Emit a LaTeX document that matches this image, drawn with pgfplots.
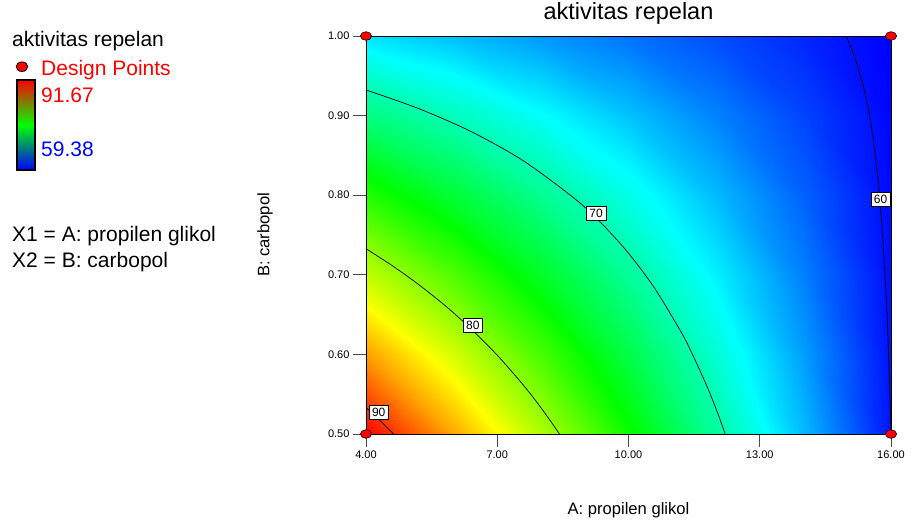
\documentclass[border=0pt]{standalone}
\usepackage{fontspec}
\setmainfont{Liberation Sans}
\usepackage{pgfplots}
\pgfplotsset{compat=1.18}
\usepackage{pgfplotstable}

\pgfplotstableread{
A B f
4 0.5 91.67
6 0.5 86.39
8 0.5 81.11
10 0.5 75.84
12 0.5 70.56
14 0.5 65.28
16 0.5 60.00
4 0.6 86.66
6 0.6 82.19
8 0.6 77.73
10 0.6 73.27
12 0.6 68.80
14 0.6 64.34
16 0.6 59.88
4 0.7 81.64
6 0.7 77.99
8 0.7 74.35
10 0.7 70.70
12 0.7 67.05
14 0.7 63.40
16 0.7 59.75
4 0.8 76.63
6 0.8 73.79
8 0.8 70.96
10 0.8 68.13
12 0.8 65.29
14 0.8 62.46
16 0.8 59.63
4 0.9 71.61
6 0.9 69.60
8 0.9 67.58
10 0.9 65.56
12 0.9 63.54
14 0.9 61.52
16 0.9 59.50
4 1.0 66.60
6 1.0 65.40
8 1.0 64.19
10 1.0 62.99
12 1.0 61.79
14 1.0 60.58
16 1.0 59.38
}\surfdata

\pgfplotstableread{
A B
4 0.5
16 0.5
4 1.0
16 1.0
}\designpts

\tikzset{clabel/.style={fill=white, draw=black, line width=0.5pt, inner xsep=3pt, inner ysep=2.5pt, text height=8.6pt, text depth=0pt, font=\fontsize{12}{13}\selectfont}}

\begin{document}
\begin{tikzpicture}[x=1pt,y=1pt]
\path[use as bounding box] (0,0) rectangle (911,523);
\begin{axis}[
  at={(366pt,89pt)}, anchor=south west,
  scale only axis, width=525pt, height=398pt,
  xmin=4, xmax=16, ymin=0.5, ymax=1,
  xtick={4,7,10,13,16}, ytick={0.5,0.6,0.7,0.8,0.9,1.0},
  tick pos=left, tick align=outside,
  major tick length=13pt,
  every tick/.style={black!70, line width=1pt},
  axis line style={line width=1pt},
  axis on top,
  clip=false,
  /pgf/number format/assume math mode=true,
  xticklabel style={font=\fontsize{11}{13}\selectfont, /pgf/number format/.cd, fixed, fixed zerofill, precision=2},
  yticklabel style={font=\fontsize{11}{13}\selectfont, /pgf/number format/.cd, fixed, fixed zerofill, precision=2},
  title={aktivitas repelan},
  title style={font=\fontsize{23.5}{26}\selectfont, at={(axis description cs:0.5,1.0276)}, anchor=base},
  xlabel={A: propilen glikol},
  xlabel style={font=\fontsize{16.6}{19}\selectfont, at={(axis description cs:0.5,-0.191)}, anchor=center},
  ylabel={B: carbopol},
  ylabel style={font=\fontsize{16.6}{19}\selectfont, at={(axis description cs:-0.1924,0.5)}, anchor=center},
  colormap={dx}{rgb255=(0,0,255) rgb255=(0,255,255) rgb255=(0,255,0) rgb255=(255,255,0) rgb255=(255,0,0)},
  point meta min=59.38, point meta max=91.67,
]
\addplot[surf, shader=interp, mesh/rows=6, mesh/cols=7, point meta=explicit] table[x=A, y=B, meta=f] {\surfdata};

% contour 90
\addplot[black, line width=0.7pt, smooth] coordinates {(4,0.5333) (4.24,0.5211) (4.48,0.5084) (4.632,0.5)};
% contour 80
\addplot[black, line width=0.7pt, smooth] coordinates {(4,0.7328) (4.6,0.7115) (5.2,0.6879) (5.8,0.6617) (6.4,0.6322) (7.0,0.5990) (7.6,0.5612) (7.96,0.5359) (8.2,0.5177) (8.422,0.5)};
% contour 70
\addplot[black, line width=0.7pt, smooth] coordinates {(4,0.9322) (5.2,0.9089) (6.4,0.8800) (7.6,0.8431) (8.8,0.7944) (9.4,0.7637) (10,0.7271) (10.6,0.6829) (11.2,0.6283) (11.44,0.6026) (11.8,0.5591) (12.04,0.5260) (12.21,0.5)};
% contour 60
\addplot[black, line width=0.7pt, smooth] coordinates {(14.97,1.0) (15.16,0.9754) (15.4,0.9297) (15.52,0.8964) (15.64,0.8510) (15.76,0.7856) (15.88,0.6832) (15.94,0.6067) (15.976,0.5473) (16,0.5)};

\node[clabel] at (axis cs:9.26,0.777) {70};
\node[clabel] at (axis cs:6.44,0.637) {80};
\node[clabel] at (axis cs:4.29,0.5273) {90};
\node[clabel] at (axis cs:15.76,0.795) {60};

\addplot[only marks, mark=*, mark size=4.3pt, mark options={xscale=1.3, fill=red, draw=black, line width=0.6pt}] table[x=A, y=B] {\designpts};
\end{axis}

% left legend
\node[anchor=base west, inner sep=0pt, font=\fontsize{21}{25}\selectfont] at (12,476.3) {aktivitas repelan};
\draw[fill=red, draw=black, line width=0.8pt] (22,456.3) ellipse [x radius=5.8, y radius=4.8];
\node[anchor=base west, inner sep=0pt, text=red, font=\fontsize{21}{25}\selectfont] at (41,447) {Design Points};
\shade[top color=red, bottom color=blue, middle color={rgb,255:red,0;green,255;blue,0}] (17,353) rectangle (35,443);
\draw[line width=1.4pt] (17,353) rectangle (35,443);
\node[anchor=base west, inner sep=0pt, text=red, font=\fontsize{21}{25}\selectfont] at (41,420) {91.67};
\node[anchor=base west, inner sep=0pt, text=blue, font=\fontsize{21}{25}\selectfont] at (41,366) {59.38};
\node[anchor=base west, inner sep=0pt, font=\fontsize{21}{25}\selectfont] at (12,281) {X1 = A: propilen glikol};
\node[anchor=base west, inner sep=0pt, font=\fontsize{21}{25}\selectfont] at (12,255) {X2 = B: carbopol};
\end{tikzpicture}
\end{document}
